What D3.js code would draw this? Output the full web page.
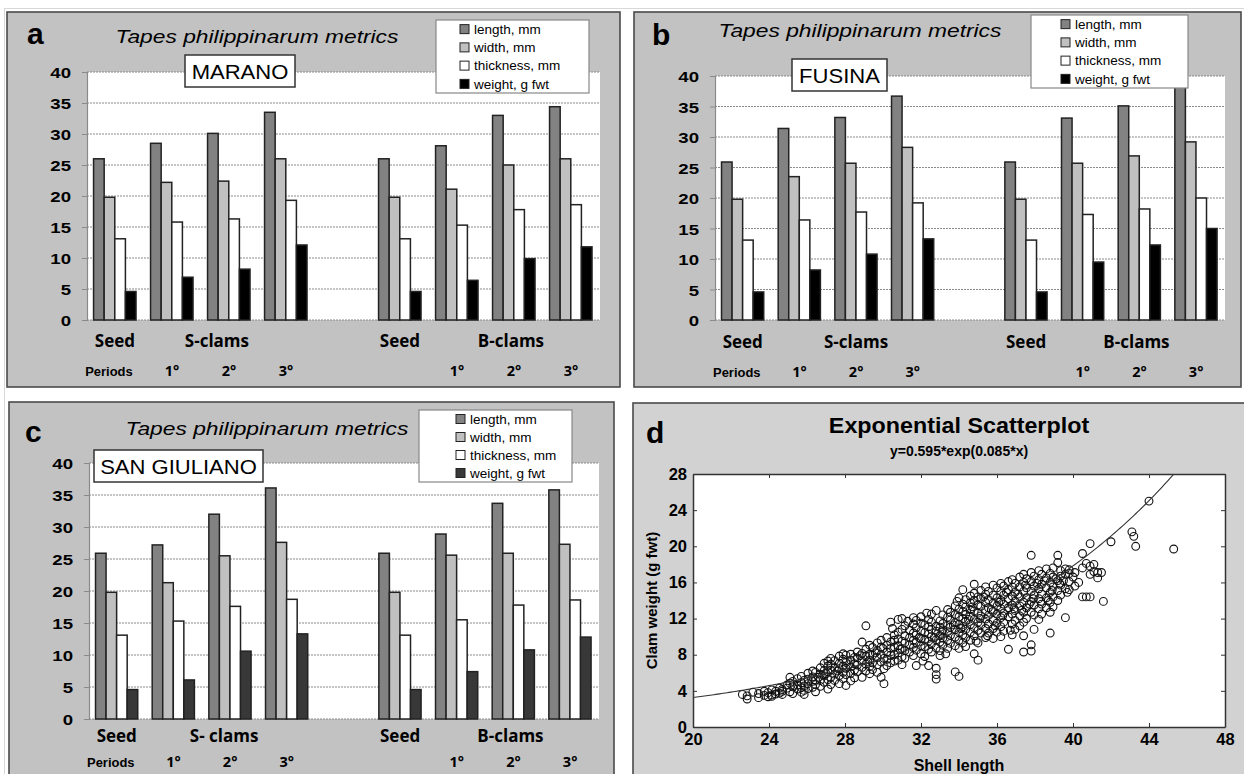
<!DOCTYPE html>
<html><head><meta charset="utf-8">
<script src="https://cdn.jsdelivr.net/npm/d3@7"></script>
<style>body{margin:0;background:#fff}svg{display:block}</style>
</head><body><svg id="chart" width="1244" height="774"></svg>
<script>
// ---------------- DATA ----------------
const periodCategories = ["Seed","S1","S2","S3","gap","SeedB","B1","B2","B3"];
const seriesNames = ["length, mm","width, mm","thickness, mm","weight, g fwt"];
const yTicks = [0,5,10,15,20,25,30,35,40];
const periodTickLabels = ["1°","2°","3°"];

const maranoLength    = [26.0, 28.5, 30.1, 33.5, null, 26.0, 28.1, 33.0, 34.4];
const maranoWidth     = [19.8, 22.2, 22.4, 26.0, null, 19.8, 21.1, 25.0, 26.0];
const maranoThickness = [13.1, 15.8, 16.3, 19.3, null, 13.1, 15.3, 17.8, 18.6];
const maranoWeight    = [4.6, 6.9, 8.2, 12.1, null, 4.6, 6.4, 9.9, 11.8];

const fusinaLength    = [25.9, 31.4, 33.2, 36.7, null, 25.9, 33.1, 35.1, 39.5];
const fusinaWidth     = [19.8, 23.5, 25.7, 28.3, null, 19.8, 25.7, 26.9, 29.2];
const fusinaThickness = [13.1, 16.4, 17.7, 19.2, null, 13.1, 17.3, 18.2, 20.0];
const fusinaWeight    = [4.6, 8.2, 10.8, 13.3, null, 4.6, 9.5, 12.3, 15.0];

const sanGiulianoLength    = [25.9, 27.2, 32.0, 36.1, null, 25.9, 28.9, 33.7, 35.8];
const sanGiulianoWidth     = [19.8, 21.3, 25.5, 27.6, null, 19.8, 25.6, 25.9, 27.3];
const sanGiulianoThickness = [13.1, 15.3, 17.6, 18.7, null, 13.1, 15.5, 17.8, 18.6];
const sanGiulianoWeight    = [4.6, 6.1, 10.6, 13.3, null, 4.6, 7.4, 10.8, 12.8];

const shellTicks = [20,24,28,32,36,40,44,48];
const weightTicks = [0,4,8,12,16,20,24,28];
const fitA = 0.595, fitB = 0.085;   // y = 0.595*exp(0.085*x), as printed on the chart

// scatter: [shell length, [clam weights read at about that length]]
const scatterColumns = [
 [22.6,[3.6]],[22.85,[3.1,3.45]],[23.15,[3.85]],[23.45,[3.7,3.25]],[23.75,[3.5,3.95]],
 [23.95,[3.35,3.8]],[24.15,[4.1,3.55,3.4]],[24.35,[3.65,3.95]],[24.55,[4.3,3.75]],
 [24.7,[4.15,3.95,3.6]],[24.95,[4.65,4.3]],[25.1,[5.5,4.85,3.9]],[25.25,[5.05,4.45,3.7]],
 [25.5,[5.35,4.65,4.2]],[25.7,[5.6,4.9,4.35,3.85]],[25.85,[5.15,4.55,4.05,3.6]],
 [26.05,[5.95,5.3,4.8,4.25]],[26.3,[6.2,5.55,5.05,4.4]],[26.45,[6.05,5.2,4.7,3.9]],
 [26.7,[6.55,5.85,5.15,4.5]],[26.9,[7.05,6.25,5.65,4.95]],[27.1,[7.3,6.75,6.1,5.25,4.2]],
 [27.25,[7.6,6.95,6.3,5.5,4.7]],[27.45,[7.35,6.55,5.85,5.15]],[27.7,[7.85,7.05,6.45,5.7,4.8]],
 [27.9,[8.1,7.5,6.75,6.05,5.35]],[28.05,[7.95,7.15,6.5,5.8,4.6]],[28.3,[8.05,7.4,6.65,5.95,5.1]],
 [28.5,[7.7,7.0,6.3,5.45]],[28.65,[8.3,7.65,6.85,6.1]],[28.9,[9.4,8.15,7.3,6.6,5.5]],
 [29.1,[11.2,8.6,7.85,6.95,6.2]],[29.3,[9.05,8.05,7.4,6.7,5.9]],[29.45,[8.8,7.95,7.1,6.35]],
 [29.7,[9.3,8.45,7.7,6.9,6.05]],[29.9,[9.6,8.85,8.0,7.2,5.5]],[30.05,[7.6,6.45,4.8]],
 [30.2,[9.9,9.05,8.3,7.5,6.8]],[30.4,[11.6,9.4,8.7,7.95,7.1]],[30.6,[10.2,9.6,8.85,8.0,7.3]],
 [30.8,[11.9,10.5,9.75,9.0,8.2,7.4]],[31.0,[12.0,10.8,9.5,8.65,7.75,6.9]],
 [31.15,[11.2,10.1,9.3,8.45,7.6]],[31.4,[10.7,9.9,9.1,8.3]],[31.6,[12.1,11.4,10.4,9.6,8.8,7.9]],
 [31.75,[11.8,11.0,10.2,9.35,8.5,6.8]],[32.0,[12.2,11.5,10.6,9.8,9.0,8.1]],
 [32.2,[11.3,10.45,9.7,8.9,7.8]],[32.4,[11.9,11.1,10.3,9.5,8.6,6.8]],
 [32.55,[12.5,11.6,10.8,10.0,9.2,8.3]],[32.8,[12.9,11.15,10.6,9.65,8.75,6.5,5.8,5.3]],
 [33.0,[11.75,11.05,10.1,9.4,8.45,7.9]],[33.15,[12.4,11.45,10.75,9.85,9.05]],
 [33.4,[13.0,12.15,11.25,10.55,9.6,8.7]],[33.55,[12.7,11.85,11.05,10.15,9.25]],
 [33.8,[13.4,12.45,11.55,10.8,9.95,9.0,6.1]],[34.0,[14.3,13.05,12.2,11.35,10.5,9.6,8.7,5.6]],
 [34.2,[15.2,13.6,12.75,12.0,11.1,10.2,9.3]],[34.35,[14.1,13.3,12.45,11.7,10.8,9.9,8.9]],
 [34.6,[14.5,13.75,13.0,12.25,11.35,10.5,9.6]],[34.8,[15.8,14.8,14.0,12.85,11.9,11.0,10.1,8.1]],
 [35.0,[14.4,13.5,12.6,11.6,10.7,9.3,7.4]],[35.15,[15.1,14.2,13.35,12.3,11.3,10.4]],
 [35.4,[15.5,14.7,13.8,12.9,11.95,10.9,9.9]],[35.55,[15.0,14.1,13.2,12.35,11.4,10.4]],
 [35.8,[15.7,14.6,13.7,12.8,11.8,10.9,9.8]],[36.0,[15.4,14.3,13.4,12.5,11.5,10.5]],
 [36.2,[15.9,15.0,14.0,13.1,12.1,11.1,10.0]],[36.35,[15.6,14.6,13.6,12.6,11.6,10.6]],
 [36.6,[16.1,15.2,14.2,13.2,12.2,8.6]],[36.8,[16.3,15.5,14.5,13.5,12.5,11.4,10.2]],
 [36.95,[15.9,14.9,13.9,12.9,11.8,10.8]],[37.2,[16.6,15.5,14.4,13.4,12.3,11.2]],
 [37.4,[16.9,16.0,15.0,13.8,12.7,11.6,10.1,8.3]],[37.55,[16.4,15.4,14.3,13.2,12.0]],
 [37.8,[19.0,17.1,16.1,15.0,13.9,12.7,9.1,8.4]],[37.95,[16.7,15.6,14.6,13.5,12.4,10.8]],
 [38.2,[17.3,16.3,15.3,14.2,13.1,11.9]],[38.35,[16.9,15.8,14.7,13.6,12.5]],
 [38.6,[17.5,16.5,15.4,14.3,13.2]],[38.8,[17.0,16.0,14.9,13.8,12.7,10.4]],
 [38.95,[17.6,16.6,15.5,14.4,13.3]],[39.2,[19.0,18.2,16.2,15.1,14.0]],
 [39.35,[17.3,16.7,15.7,14.6]],[39.6,[17.5,16.9,15.3,12.1]],[39.8,[17.4,17.0,16.1,15.2]],
 [40.1,[15.6,17.1]],[40.3,[16.0]],[40.5,[19.2,14.4,17.6]],[40.7,[18.1,14.4]],
 [40.9,[20.3,17.8,16.9,14.4]],[41.1,[17.2,18.0]],[41.3,[17.1,16.5]],[41.5,[17.1]],
 [41.6,[13.9]],[42.0,[20.5]],[43.1,[21.6]],[43.2,[21.1]],[43.3,[20.0]],[44.0,[25.0]],[45.3,[19.7]]
];
// extra points read in the dense middle of the cloud
const scatterExtra = [
 [30.5,10.9],[30.9,8.6],[31.3,11.7],[31.9,9.9],[32.1,7.3],[32.3,12.6],[32.7,9.9],[33.1,10.5],
 [33.3,8.1],[33.7,11.3],[33.9,13.9],[34.1,10.9],[34.5,11.9],[34.7,13.3],[34.9,9.5],[35.1,12.0],
 [35.3,14.4],[35.5,10.1],[35.7,13.0],[35.9,11.2],[36.1,13.8],[36.3,12.3],[36.5,14.9],[36.7,10.7],
 [36.9,13.1],[37.1,14.7],[37.3,12.9],[37.5,15.7],[37.7,13.6],[37.9,14.2],[38.1,15.9],[38.3,13.9],
 [38.5,16.2],[38.7,14.0],[38.9,15.1],[39.1,16.4],[39.3,15.9],[39.5,16.2],[39.7,14.9],[40.0,16.6],
 [28.2,6.9],[28.8,7.9],[29.2,7.2],[29.6,8.2],[30.0,8.7],[27.0,5.9],[26.6,5.5],[27.6,6.2]
];

// ---------------- DRAWING ----------------
const svg = d3.select("#chart");
const SANS = "'Liberation Sans', Arial, Helvetica, sans-serif";
const NARROW = "'Liberation Sans Narrow', 'Arial Narrow', 'Liberation Sans', sans-serif";
const HUMAN = "'Open Sans', 'Liberation Sans', sans-serif";

function txt(g, x, y, s, o = {}) {
  return g.append("text")
    .attr("transform", `translate(${x},${y})${o.rotate ? ` rotate(${o.rotate})` : ""} scale(${o.sx || 1},1)`)
    .attr("text-anchor", o.anchor || "start")
    .attr("font-family", o.family || SANS)
    .attr("font-size", o.size || 14)
    .attr("font-weight", o.weight || "normal")
    .attr("font-style", o.style || "normal")
    .attr("fill", o.fill || "#000")
    .text(s);
}

// faint outer frame
svg.append("rect").attr("x",4.5).attr("y",8.5).attr("width",1260).attr("height",800)
  .attr("fill","none").attr("stroke","#d8d8d8");

function barPanel(cfg) {
  const g = svg.append("g");
  g.append("rect").attr("x",cfg.box[0]).attr("y",cfg.box[1])
    .attr("width",cfg.box[2]-cfg.box[0]).attr("height",cfg.box[3]-cfg.box[1])
    .attr("fill","#c2c2c2").attr("stroke","#4a4a4a").attr("stroke-width",1.6);

  const x0 = d3.scaleBand().domain(periodCategories).range([cfg.left, cfg.right]).padding(0);
  const bw = x0.bandwidth();
  const x1 = d3.scaleBand().domain(seriesNames).range([bw*0.115, bw*0.86]).padding(0);
  const y = d3.scaleLinear().domain([0,40]).range([cfg.bottom, cfg.top]);

  g.append("rect").attr("x",cfg.left).attr("y",cfg.top)
    .attr("width",cfg.right-cfg.left).attr("height",cfg.bottom-cfg.top).attr("fill","#fff");

  g.selectAll("line.grid").data(yTicks).join("line").attr("class","grid")
    .attr("x1",cfg.left).attr("x2",cfg.right).attr("y1",d=>y(d)).attr("y2",d=>y(d))
    .attr("stroke","#8a8a8a").attr("stroke-width",1).attr("stroke-dasharray","2,1");

  const colors = ["#828282","#c0c0c0","#ffffff", cfg.weightColor];
  const bars = [];
  cfg.series.forEach((arr, si) => arr.forEach((v, ci) => {
    if (v != null) bars.push({cat: periodCategories[ci], s: seriesNames[si], v, c: colors[si]});
  }));
  g.selectAll("rect.bar").data(bars).join("rect").attr("class","bar")
    .attr("x", d => x0(d.cat) + x1(d.s))
    .attr("y", d => y(d.v))
    .attr("width", x1.bandwidth())
    .attr("height", d => y(0) - y(d.v))
    .attr("fill", d => d.c).attr("stroke","#222").attr("stroke-width",1.5);

  // y axis
  const ax = g.append("g").attr("transform",`translate(${cfg.left},0)`)
    .call(d3.axisLeft(y).tickValues(yTicks).tickSize(5).tickPadding(0));
  ax.select(".domain").attr("stroke","#8a8a8a").attr("stroke-width",1.2);
  ax.selectAll(".tick line").attr("stroke","#8a8a8a");
  ax.selectAll(".tick text").attr("font-family",SANS).attr("font-size",15.5).attr("font-weight","bold")
    .attr("fill","#000").attr("x",0).attr("dy","0.36em")
    .attr("transform",`translate(-16,0) scale(1.2,1)`);

  // bottom labels
  const cx = c => x0(c) + bw*0.49;
  const catY = cfg.bottom + cfg.catOff, perY = cfg.bottom + cfg.perOff;
  const catOpt = {size:17, weight:"bold", anchor:"middle", family:HUMAN, sx:1.0};
  txt(g, cx("Seed"), catY, "Seed", catOpt);
  txt(g, cx("S2") + cfg.sShift, catY, cfg.sLabel, catOpt);
  txt(g, cx("SeedB"), catY, "Seed", catOpt);
  txt(g, cx("B2") - 3, catY, "B-clams", catOpt);
  const perOpt = {size:14.5, weight:"bold", anchor:"middle", family:HUMAN};
  txt(g, cx("Seed") - 6, perY, "Periods", {size:12, weight:"bold", anchor:"middle", family:SANS, sx:1.08});
  ["S1","S2","S3"].forEach((c,i) => txt(g, cx(c), perY, periodTickLabels[i], perOpt));
  ["B1","B2","B3"].forEach((c,i) => txt(g, cx(c), perY, periodTickLabels[i], perOpt));

  // title, letter, site box
  txt(g, cfg.letter[0], cfg.letter[1], cfg.letter[2], {size:30, weight:"bold"});
  txt(g, cfg.title[0], cfg.title[1], "Tapes philippinarum  metrics", {size:19, style:"italic", anchor:"middle", sx:1.2});
  const sb = cfg.site;
  g.append("rect").attr("x",sb[0]).attr("y",sb[1]).attr("width",sb[2]-sb[0]).attr("height",sb[3]-sb[1])
    .attr("fill","#fff").attr("stroke","#333").attr("stroke-width",1.5);
  txt(g, (sb[0]+sb[2])/2, sb[3]-8, sb[4], {size:19.5, anchor:"middle", sx:1.13});

  // legend
  const lg = cfg.legend;
  g.append("rect").attr("x",lg[0]).attr("y",lg[1]).attr("width",lg[2]-lg[0]).attr("height",lg[3]-lg[1])
    .attr("fill","#fff").attr("stroke","#888").attr("stroke-width",1.2);
  const step = (lg[3]-lg[1]) / 4;
  seriesNames.forEach((n,i) => {
    const yy = lg[1] + step*(i+0.5);
    g.append("rect").attr("x",lg[0]+lg[4]).attr("y",yy-4.5).attr("width",9).attr("height",9)
      .attr("fill",colors[i]).attr("stroke","#222").attr("stroke-width",1);
    txt(g, lg[0]+lg[4]+14, yy+4.8, n, {size:13.5});
  });
}

barPanel({
  box:[7,12,620,387], left:87, right:600, top:72, bottom:320,
  series:[maranoLength, maranoWidth, maranoThickness, maranoWeight], weightColor:"#000",
  catOff:27, perOff:56, sLabel:"S-clams", sShift:-12,
  letter:[27,44,"a"], title:[257,43], site:[185,55,295,87,"MARANO"],
  legend:[436,20,589,93,24]
});
barPanel({
  box:[634,12,1241,387], left:715, right:1225, top:76, bottom:320,
  series:[fusinaLength, fusinaWidth, fusinaThickness, fusinaWeight], weightColor:"#000",
  catOff:28, perOff:57, sLabel:"S-clams", sShift:0,
  letter:[652,45,"b"], title:[860,37], site:[792,59,887,91,"FUSINA"],
  legend:[1031,15,1188,88,30]
});
barPanel({
  box:[9,402,614,800], left:89, right:599, top:463, bottom:719,
  series:[sanGiulianoLength, sanGiulianoWidth, sanGiulianoThickness, sanGiulianoWeight], weightColor:"#383838",
  catOff:23, perOff:48, sLabel:"S- clams", sShift:-6,
  letter:[25,442,"c"], title:[267,435], site:[94,450,263,482,"SAN GIULIANO"],
  legend:[419,410,572,482,37]
});

// ---------------- Panel d ----------------
(function(){
  const g = svg.append("g");
  g.append("rect").attr("x",633).attr("y",403).attr("width",640).attr("height",400)
    .attr("fill","#d2d2d2").attr("stroke","#4a4a4a").attr("stroke-width",1.6);
  const xs = d3.scaleLinear().domain([20,48]).range([693,1225]);
  const ys = d3.scaleLinear().domain([0,28]).range([727,474]);
  g.append("rect").attr("x",xs(20)).attr("y",ys(28)).attr("width",xs(48)-xs(20)).attr("height",ys(0)-ys(28))
    .attr("fill","#fff");

  const clipId = "clipD";
  g.append("clipPath").attr("id",clipId).append("rect")
    .attr("x",xs(20)).attr("y",ys(28)).attr("width",xs(48)-xs(20)).attr("height",ys(0)-ys(28));

  const pts = scatterColumns.flatMap(([x, ws]) => ws.map(w => ({x, w})))
    .concat(scatterExtra.map(([x, w]) => ({x, w})));
  g.append("g").attr("clip-path",`url(#${clipId})`).selectAll("circle").data(pts).join("circle")
    .attr("cx", d => xs(d.x)).attr("cy", d => ys(d.w)).attr("r", 3.9)
    .attr("fill","none").attr("stroke","#111").attr("stroke-width",1.1);

  const curveX = d3.range(20, 48.01, 0.1);
  const line = d3.line().x(d => xs(d)).y(d => ys(fitA*Math.exp(fitB*d)));
  g.append("path").datum(curveX).attr("clip-path",`url(#${clipId})`)
    .attr("d", line).attr("fill","none").attr("stroke","#333").attr("stroke-width",1.1);

  const styleAxis = sel => {
    sel.select(".domain").attr("stroke","#333").attr("stroke-width",1.5);
    sel.selectAll(".tick line").attr("stroke","#333");
    sel.selectAll(".tick text").attr("font-family",NARROW).attr("font-weight","bold")
      .attr("font-size",16.5).attr("fill","#000");
  };
  g.append("g").attr("transform",`translate(0,${ys(0)})`)
    .call(d3.axisBottom(xs).tickValues(shellTicks).tickSizeInner(-4).tickSizeOuter(0).tickPadding(6))
    .call(styleAxis);
  g.append("g").attr("transform",`translate(0,${ys(28)})`)
    .call(d3.axisTop(xs).tickValues(shellTicks).tickSizeInner(-4).tickSizeOuter(0).tickFormat(""))
    .call(styleAxis);
  g.append("g").attr("transform",`translate(${xs(20)},0)`)
    .call(d3.axisLeft(ys).tickValues(weightTicks).tickSizeInner(-4).tickSizeOuter(0).tickPadding(6))
    .call(styleAxis);
  g.append("g").attr("transform",`translate(${xs(48)},0)`)
    .call(d3.axisRight(ys).tickValues(weightTicks).tickSizeInner(-4).tickSizeOuter(0).tickFormat(""))
    .call(styleAxis);

  txt(g, 646, 443, "d", {size:30, weight:"bold"});
  const cxm = (xs(20)+xs(48))/2;
  txt(g, cxm, 433, "Exponential Scatterplot", {size:22, weight:"bold", anchor:"middle", sx:1.06});
  txt(g, cxm, 456, "y=0.595*exp(0.085*x)", {size:14, weight:"bold", anchor:"middle", family:NARROW});
  txt(g, cxm, 771, "Shell length", {size:16, weight:"bold", anchor:"middle", family:NARROW});
  txt(g, 657, (ys(0)+ys(28))/2, "Clam weight (g fwt)", {size:15, weight:"bold", anchor:"middle", family:NARROW, rotate:-90});
})();
</script></body></html>
